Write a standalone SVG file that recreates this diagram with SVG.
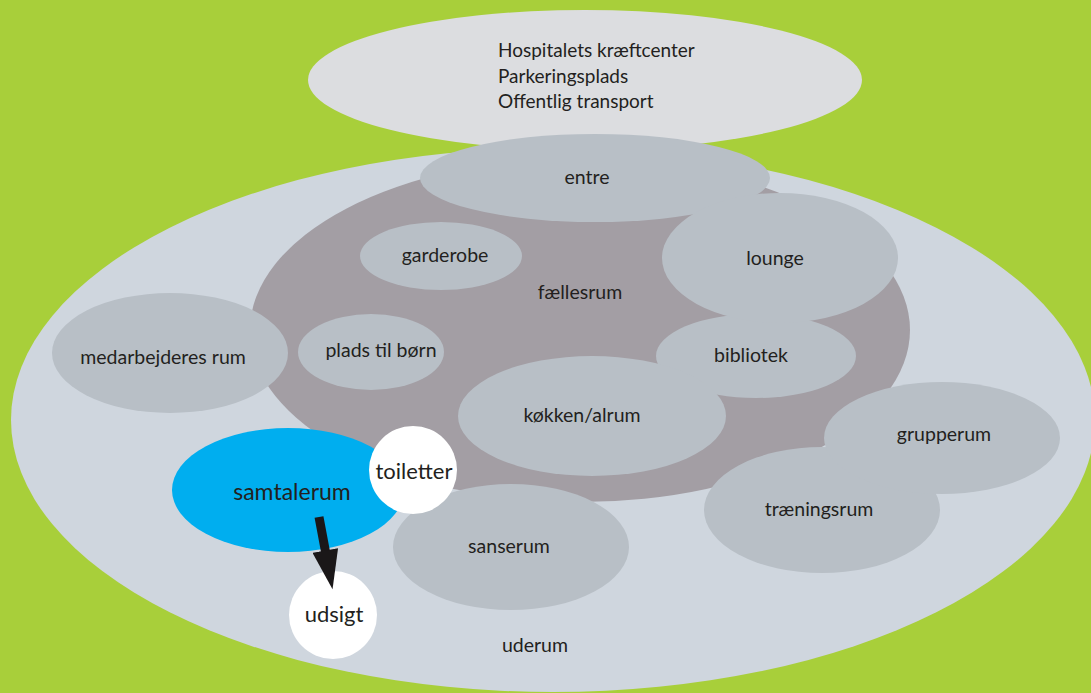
<svg xmlns="http://www.w3.org/2000/svg" width="1091" height="693" viewBox="0 0 1091 693">
<style>
  .lbl{font-family:Lato,"Open Sans","Liberation Sans",sans-serif;font-size:19.5px;fill:#231f20;text-anchor:middle}
  .top{font-size:19px;text-anchor:start}
  .big{font-size:22px}
  .room{fill:#b8bfc6}
</style>
<defs>
  <marker id="ah" markerUnits="userSpaceOnUse" markerWidth="40" markerHeight="26" refX="8" refY="12.5" orient="auto" viewBox="0 0 38 25">
    <path d="M0,0 L38,12.5 L0,25 z" fill="#1a1718"/>
  </marker>
</defs>
<rect x="0" y="0" width="1091" height="693" fill="#a8cf3a"/>
<g id="hospital">
  <ellipse cx="585" cy="80" rx="277" ry="70" fill="#dcdde0"/>
  <text class="lbl top" x="498" y="57">Hospitalets kræftcenter</text>
  <text class="lbl top" x="498" y="83">Parkeringsplads</text>
  <text class="lbl top" x="498" y="108">Offentlig transport</text>
</g>
<g id="uderum">
  <ellipse cx="553" cy="420" rx="542" ry="272" fill="#cfd6de"/>
  <text class="lbl" x="535" y="652">uderum</text>
</g>
<g id="faellesrum">
  <ellipse cx="580" cy="330" rx="330" ry="172" fill="#a39ea4"/>
  <text class="lbl" x="580" y="299">fællesrum</text>
</g>
<g id="entre">
  <ellipse class="room" cx="595" cy="178" rx="175" ry="44"/>
  <text class="lbl" x="587" y="184">entre</text>
</g>
<g id="garderobe">
  <ellipse class="room" cx="441" cy="256" rx="81" ry="34"/>
  <text class="lbl" x="445" y="262">garderobe</text>
</g>
<g id="bibliotek">
  <ellipse class="room" cx="756" cy="356" rx="100" ry="42"/>
  <text class="lbl" x="751" y="362">bibliotek</text>
</g>
<g id="lounge">
  <ellipse class="room" cx="780" cy="258" rx="118" ry="65"/>
  <text class="lbl" x="775" y="265">lounge</text>
</g>
<g id="medarbejderes-rum">
  <ellipse class="room" cx="170" cy="353" rx="118" ry="60"/>
  <text class="lbl" x="163" y="364">medarbejderes rum</text>
</g>
<g id="plads-til-boern">
  <ellipse class="room" cx="371" cy="352" rx="73" ry="38"/>
  <text class="lbl" x="381" y="357">plads til børn</text>
</g>
<g id="koekken">
  <ellipse class="room" cx="592" cy="416" rx="134" ry="60"/>
  <text class="lbl" x="582" y="422">køkken/alrum</text>
</g>
<g id="traeningsrum">
  <ellipse class="room" cx="822" cy="510" rx="118" ry="63"/>
  <text class="lbl" x="819" y="516">træningsrum</text>
</g>
<g id="grupperum">
  <ellipse class="room" cx="942" cy="438" rx="118" ry="56"/>
  <text class="lbl" x="944" y="441">grupperum</text>
</g>
<g id="sanserum">
  <ellipse class="room" cx="511" cy="547" rx="118" ry="63"/>
  <text class="lbl" x="509" y="553">sanserum</text>
</g>
<g id="samtalerum">
  <ellipse cx="288" cy="490" rx="116" ry="62" fill="#00aeef"/>
  <text class="lbl" style="font-size:23px" x="292" y="500">samtalerum</text>
</g>
<g id="toiletter">
  <circle cx="413" cy="470" r="44" fill="#ffffff"/>
  <text class="lbl big" x="414" y="479">toiletter</text>
</g>
<g id="udsigt">
  <circle cx="333" cy="615" r="44" fill="#ffffff"/>
  <text class="lbl big" x="334" y="622">udsigt</text>
</g>
<g id="connectors">
  <line x1="319" y1="517" x2="326.8" y2="558.7" stroke="#1a1718" stroke-width="9" marker-end="url(#ah)"/>
</g>
</svg>
